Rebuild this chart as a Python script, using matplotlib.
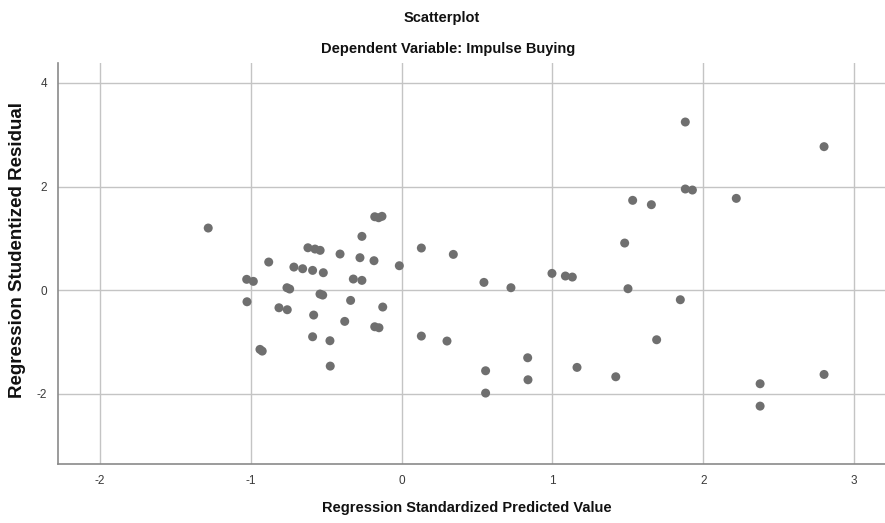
import matplotlib
matplotlib.use("Agg")
import matplotlib.pyplot as plt

plt.rcParams['font.family'] = ['Liberation Sans', 'DejaVu Sans']

# Regression Standardized Predicted Value
pred = [-1.282, -0.881, -1.027, -0.983, -1.025, -0.760, -0.742, -0.813, -0.758,
        -0.939, -0.924, -0.621, -0.574, -0.540, -0.714, -0.656, -0.590, -0.519,
        -0.178, -0.152, -0.130, -0.263, -0.408, -0.276, -0.183, -0.015, 0.131,
        -0.320, -0.263, -0.541, -0.523, -0.338, -0.125, -0.583, -0.377, -0.178,
        -0.150, -0.590, -0.475, 0.131, -0.473, 1.881, 2.801, 1.881, 1.928, 2.219,
        1.532, 1.656, 1.479, 0.343, 0.997, 1.086, 1.132, 0.546, 0.725, 1.501,
        1.848, 0.301, 1.691, 0.836, 0.557, 1.163, 0.838, 1.420, 2.377, 2.801,
        0.557, 2.377]
# Regression Studentized Residual
resid = [1.198, 0.541, 0.207, 0.168, -0.226, 0.045, 0.020, -0.342, -0.380,
         -1.146, -1.179, 0.817, 0.792, 0.767, 0.444, 0.412, 0.380, 0.335,
         1.416, 1.397, 1.424, 1.037, 0.696, 0.625, 0.567, 0.470, 0.812,
         0.213, 0.187, -0.077, -0.097, -0.200, -0.328, -0.483, -0.605, -0.709,
         -0.728, -0.902, -0.979, -0.889, -1.469, 3.246, 2.770, 1.952, 1.932, 1.771,
         1.733, 1.649, 0.908, 0.689, 0.322, 0.271, 0.251, 0.148, 0.045, 0.026,
         -0.187, -0.985, -0.960, -1.308, -1.559, -1.494, -1.733, -1.675, -1.810, -1.630,
         -1.990, -2.242]

xticks = [-2, -1, 0, 1, 2, 3]
yticks = [-2, 0, 2, 4]

fig = plt.figure(figsize=(8.85, 5.23), dpi=100)
ax = fig.add_axes([58/885, (523-464)/523, (885-58)/885, (464-63)/523])

ax.scatter(pred, resid, s=42, color='#6f6f6f', edgecolors='none', zorder=3)

ax.set_xlim(-2.278, 3.205)
ax.set_ylim(-3.36, 4.386)
ax.set_xticks(xticks)
ax.set_yticks(yticks)
ax.set_xticklabels([str(t) for t in xticks])
ax.set_yticklabels([str(t) for t in yticks])
ax.grid(True, color='#c4c4c4', linewidth=1.0, zorder=0)
ax.set_axisbelow(True)
for s in ['top', 'right']:
    ax.spines[s].set_visible(False)
for s in ['left', 'bottom']:
    ax.spines[s].set_color('#8a8a8a')
    ax.spines[s].set_linewidth(1.2)
ax.tick_params(length=0, labelsize=8.5, labelcolor='#3a3a3a', pad=8)

fig.text(442/885, 1-18/523, 'Scatterplot', ha='center', va='center',
         fontsize=10.5, fontweight='bold', color='#111111')
fig.text(448/885, 1-49/523, 'Dependent Variable: Impulse Buying', ha='center', va='center',
         fontsize=10.5, fontweight='bold', color='#111111')
fig.text(467/885, 1-508/523, 'Regression Standardized Predicted Value', ha='center', va='center',
         fontsize=10.5, fontweight='bold', color='#111111')
fig.text(18/885, 1-250/523, 'Regression Studentized Residual', ha='center', va='center',
         rotation=90, fontsize=13.5, fontweight='bold', color='#111111')

fig.savefig('out.png', dpi=100)
